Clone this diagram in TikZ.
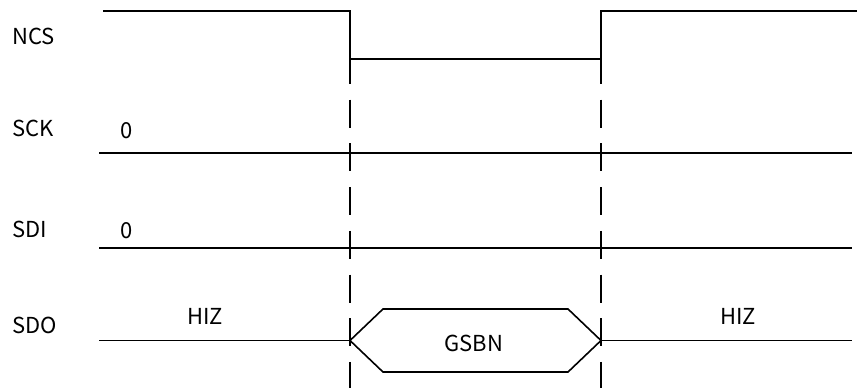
\documentclass[tikz,border=0pt]{standalone}
\usepackage{fontspec}
\setmainfont{Noto Sans CJK SC}
\begin{document}
\begin{tikzpicture}[x=1pt,y=-1pt,
  wave/.style={line width=1.6pt,line join=miter},
  guide/.style={line width=1.6pt,dash pattern=on 28pt off 15.7pt},
  txt/.style={inner sep=0pt,font=\fontsize{22}{26}\selectfont},
  sig/.style={txt,anchor=base west},
  val/.style={txt,anchor=base}]
\useasboundingbox (0,0) rectangle (857,388);
% signal names
\node[sig] (ncs) at (12,44) {NCS};
\node[sig] (sck) at (12,136) {SCK};
\node[sig] (sdi) at (12,237) {SDI};
\node[sig] (sdo) at (12,333) {SDO};
% levels
\node[val] (sck0) at (127,138) {0};
\node[val] (sdi0) at (127,238) {0};
\node[val] (hizl) at (205,324) {HIZ};
\node[val] (hizr) at (738,324) {HIZ};
\node[val] (gsbn) at (474,351) {GSBN};
% chip select
\draw[wave] (103,11) -- (350,11) -- (350,59) -- (601,59) -- (601,11) -- (857,11);
% clock and data in
\draw[wave] (99,153) -- (852,153);
\draw[wave] (99,248) -- (852,248);
% data out with bus window
\draw[wave] (99,340.5) -- (350,340.5);
\draw[wave] (350,340.5) -- (383,309) -- (568,309) -- (601,340.5) -- (568,372) -- (383,372) -- cycle;
\draw[wave] (601,340.5) -- (852,340.5);
% timing guides
\draw[guide] (350,56) -- (350,388);
\draw[guide] (601,56) -- (601,388);
\end{tikzpicture}
\end{document}
